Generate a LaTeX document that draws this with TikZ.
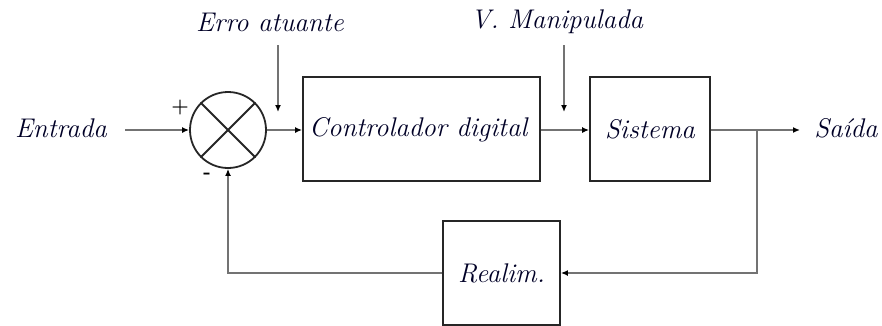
\documentclass[tikz,border=0pt]{standalone}
\usetikzlibrary{arrows.meta}
\begin{document}
\begin{tikzpicture}[x=1pt,y=-1pt,
  blk/.style={draw=black!85,line width=1.8pt,minimum width=#1,minimum height=104pt,inner sep=0pt},
  lbl/.style={font=\fontsize{27}{30}\selectfont\itshape,text=black!85!blue,inner sep=0pt},
  sig/.style={draw=black!55,line width=1.4pt,-{Latex[length=7pt,width=6pt,fill=black,color=black]}},
  ln/.style={draw=black!55,line width=1.4pt}]
\useasboundingbox (0,0) rectangle (882,325);
\node[circle,draw=black!85,line width=1.8pt,minimum size=76pt,inner sep=0pt] (sum) at (228,130) {};
\draw[black!85,line width=1.8pt] (sum.45) -- (sum.225) (sum.135) -- (sum.315);
\node[blk=237pt] (ctrl) at (421.5,129) {};
\node[lbl,anchor=west] at (309,130) {Controlador digital};
\node[blk=120pt] (sys) at (650,129) {\fontsize{27}{30}\selectfont\itshape\color{black!85!blue}Sistema};
\node[draw=black!85,line width=1.8pt,minimum width=117pt,minimum height=104pt,inner sep=0pt] (fb) at (501.5,273) {\fontsize{27}{30}\selectfont\itshape\color{black!85!blue}Realim.};
\node[lbl] (in) at (61,128) {Entrada};
\node[lbl] (out) at (846,128) {Saída};
\node[lbl] (ea) at (270,22) {Erro atuante};
\node[lbl] (vm) at (557,22) {V. Manipulada};
\node[font=\fontsize{20}{24}\selectfont\bfseries] (plus) at (180,108) {+};
\node[font=\fontsize{20}{24}\selectfont\bfseries] (minus) at (207,176) {-};
\coordinate (inA) at (125,130);
\coordinate (eaA) at (278,45);
\coordinate (eaB) at (278,112);
\coordinate (vmA) at (564,45);
\coordinate (vmB) at (564,112);
\coordinate (br) at (757,130);
\coordinate (outA) at (800,130);
\draw[sig] (inA) -- (sum.west);
\draw[sig] (sum.east) -- (ctrl.west |- sum.east);
\draw[sig] (ctrl.east |- sum.east) -- (sys.west |- sum.east);
\draw[ln] (sys.east |- sum.east) -- (br);
\draw[sig] (br) -- (outA);
\draw[sig] (br) |- (fb.east);
\draw[sig] (fb.west) -| (sum.south);
\draw[sig] (eaA) -- (eaB);
\draw[sig] (vmA) -- (vmB);
\end{tikzpicture}
\end{document}
